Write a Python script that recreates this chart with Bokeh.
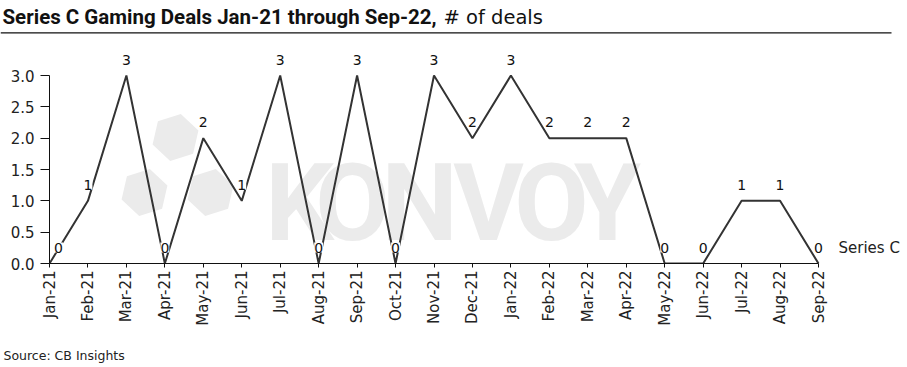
from math import pi
from bokeh.plotting import figure
from bokeh.layouts import column
from bokeh.models import (Range1d, FixedTicker, ColumnDataSource, LabelSet, Label,
                          BoxAnnotation, PrintfTickFormatter)
from bokeh.core.properties import value
from bokeh.embed import file_html
from bokeh.resources import INLINE

# ---- data ----
months = ["Jan-21", "Feb-21", "Mar-21", "Apr-21", "May-21", "Jun-21", "Jul-21",
          "Aug-21", "Sep-21", "Oct-21", "Nov-21", "Dec-21", "Jan-22", "Feb-22",
          "Mar-22", "Apr-22", "May-22", "Jun-22", "Jul-22", "Aug-22", "Sep-22"]
deals = [0, 1, 3, 0, 2, 1, 3, 0, 3, 0, 3, 2, 3, 2, 2, 2, 0, 0, 1, 1, 0]
y_ticks = [0.0, 0.5, 1.0, 1.5, 2.0, 2.5, 3.0]
series_name = "Series C"
title_bold = "Series C Gaming Deals Jan-21 through Sep-22,"
title_rest = "# of deals"
source_note = "Source: CB Insights"
watermark = "KONVOY"

# ---- layout (pixels) ----
W = 907
TITLE_H = 40
SRC_H = 27
MAIN_H = 367 - TITLE_H - SRC_H      # main figure spans y = 40 .. 340
LEFT = 49
FRAME_BOTTOM = 263 - TITLE_H        # local pixel row of y=0
BOTTOM = MAIN_H - FRAME_BOTTOM
X_UNIT = (818 - 49) / (len(months) - 1)
Y_UNIT = (263 - 75) / 3.0

FONT = "DejaVu Sans"
TXT = "#222222"


def dx(px):
    return (px - LEFT) / X_UNIT


def dy(py):  # py in absolute page pixels
    return (263 - py) / Y_UNIT


def bare(h):
    f = figure(width=W, height=h, x_range=Range1d(0, W), y_range=Range1d(0, h),
               output_backend="svg", toolbar_location=None,
               x_axis_location=None, y_axis_location=None,
               min_border=0, frame_align=False)
    f.outline_line_color = None
    f.grid.visible = False
    f.border_fill_color = "white"
    return f


# ---- title strip ----
pt = bare(TITLE_H)
pt.add_layout(Label(x=2, y=TITLE_H - 16.7, text=title_bold, text_baseline="alphabetic",
                    text_font="Roboto", text_font_style="bold", text_font_size="20.5px",
                    text_color="#111111"))
pt.add_layout(Label(x=443, y=TITLE_H - 16.7, text=title_rest, text_baseline="alphabetic",
                    text_font=FONT, text_font_size="19.5px", text_color="#111111"))
pt.add_layout(BoxAnnotation(left=0, right=891, bottom=TITLE_H - 33, top=TITLE_H - 31.7,
                            fill_color="#111111", fill_alpha=1, line_color=None))

# ---- main chart ----
p = figure(width=W, height=MAIN_H, x_range=Range1d(0, dx(W)),
           y_range=Range1d(0, dy(TITLE_H)),
           output_backend="svg", toolbar_location=None,
           min_border_left=LEFT, min_border_right=0, min_border_top=0,
           min_border_bottom=BOTTOM, frame_align=False)
p.outline_line_color = None
p.grid.visible = False
p.border_fill_color = "white"

xa = p.xaxis[0]
xa.ticker = FixedTicker(ticks=list(range(len(months))))
xa.major_label_overrides = {i: m for i, m in enumerate(months)}
xa.major_label_orientation = pi / 2
xa.bounds = (0, len(months) - 1)
xa.minor_tick_line_color = None
xa.major_tick_out = 4
xa.major_tick_in = 0
xa.major_label_standoff = 3
xa.major_label_text_font = FONT
xa.major_label_text_font_size = "15px"
xa.major_label_text_color = TXT
xa.axis_line_color = "#111111"
xa.major_tick_line_color = "#111111"

ya = p.yaxis[0]
ya.ticker = FixedTicker(ticks=y_ticks)
ya.formatter = PrintfTickFormatter(format="%.1f")
ya.bounds = (0, 3)
ya.minor_tick_line_color = None
ya.major_tick_out = 9
ya.major_tick_in = 0
ya.major_label_standoff = 6
ya.major_label_text_font = FONT
ya.major_label_text_font_size = "15px"
ya.major_label_text_color = TXT
ya.axis_line_color = "#111111"
ya.major_tick_line_color = "#111111"

# watermark (logo + word)
p.scatter(x=[dx(175), dx(144), dx(210)], y=[dy(137), dy(192), dy(192)], marker="hex",
          size=48, angle=0.3, fill_color="#ebebeb", line_color=None, level="underlay")
letter_centers = [299, 352, 419, 488, 551, 607]
for ch, cx in zip(watermark, letter_centers):
    p.add_layout(Label(x=dx(cx), y=dy(202), text=ch, text_align="center",
                       text_baseline="alphabetic", text_font="Roboto",
                       text_font_style="bold", text_font_size="108px",
                       text_color="#ebebeb", level="underlay"))

# series line
xs = list(range(len(months)))
p.line(x=xs, y=deals, line_color="#333333", line_width=2)

lab_x = [x + (9 / X_UNIT if i == 0 else 0) for i, x in enumerate(xs)]
src = ColumnDataSource(dict(x=lab_x, y=deals, label=[str(v) for v in deals]))
p.add_layout(LabelSet(x="x", y="y", text="label", source=src, text_align="center",
                      text_baseline="middle", y_offset=16, text_font=value(FONT),
                      text_font_size=value("14px"), text_color="#111111",
                      background_fill_color="white"))

p.add_layout(Label(x=len(months) - 1, y=deals[-1], x_offset=20, y_offset=16,
                   text=series_name, text_align="left", text_baseline="middle",
                   text_font=FONT, text_font_size="15px", text_color=TXT))

# ---- source strip ----
ps = bare(SRC_H)
ps.add_layout(Label(x=3, y=SRC_H - (355 - 340), text=source_note, text_baseline="middle",
                    text_font=FONT, text_font_size="12.5px", text_color=TXT))

layout = column(pt, p, ps, spacing=0)
open("out.html", "w").write(file_html(layout, INLINE))
